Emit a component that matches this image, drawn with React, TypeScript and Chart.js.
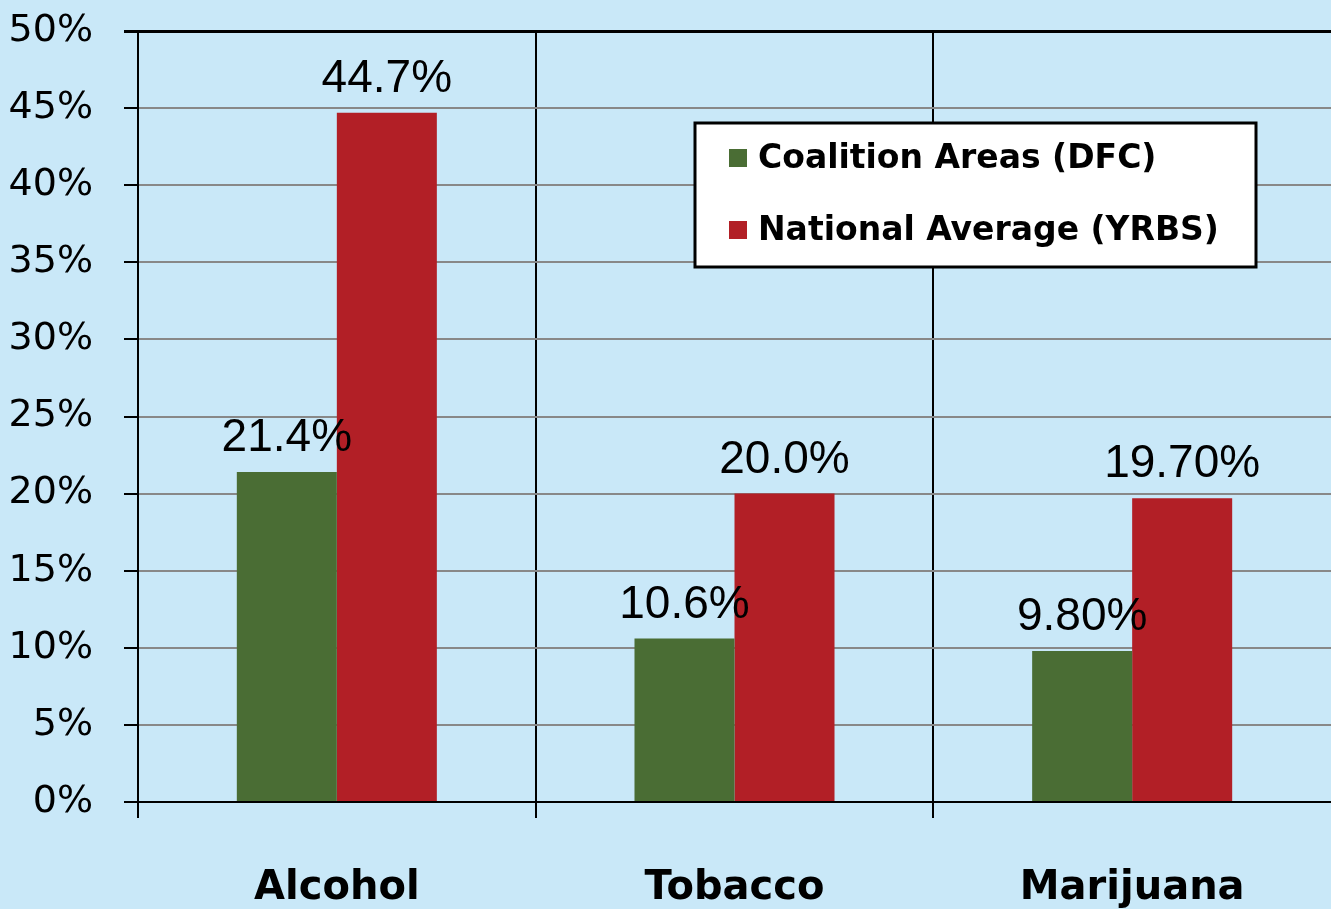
import React, { useEffect, useRef } from "react";
import { Chart, registerables } from "chart.js";

Chart.register(...registerables);

const categories = ["Alcohol", "Tobacco", "Marijuana"];
const coalitionValues = [21.4, 10.6, 9.8];
const nationalValues = [44.7, 20.0, 19.7];
const coalitionLabels = ["21.4%", "10.6%", "9.80%"];
const nationalLabels = ["44.7%", "20.0%", "19.70%"];
const seriesNames = ["Coalition Areas (DFC)", "National Average (YRBS)"];
const yTicks = [0, 5, 10, 15, 20, 25, 30, 35, 40, 45, 50];

const BG = "#C9E8F8";
const GREEN = "#4A6D34";
const RED = "#B21F26";

const bgPlugin = {
  id: "bgFill",
  beforeDraw(chart: any) {
    const { ctx, width, height } = chart;
    ctx.save();
    ctx.fillStyle = BG;
    ctx.fillRect(0, 0, width, height);
    ctx.restore();
  },
};

const valueLabelPlugin = {
  id: "valueLabels",
  afterDatasetsDraw(chart: any) {
    const { ctx } = chart;
    const labelSets = [coalitionLabels, nationalLabels];
    ctx.save();
    ctx.font = "46px 'Liberation Sans', Arial, sans-serif";
    ctx.fillStyle = "#000";
    ctx.textAlign = "center";
    ctx.textBaseline = "alphabetic";
    chart.data.datasets.forEach((_ds: any, di: number) => {
      const meta = chart.getDatasetMeta(di);
      meta.data.forEach((el: any, i: number) => {
        ctx.fillText(labelSets[di][i], el.x, el.y - 21);
      });
    });
    ctx.restore();
  },
};

const boxLegendPlugin = {
  id: "boxLegend",
  afterDraw(chart: any) {
    const { ctx } = chart;
    const x0 = 695, y0 = 123, w = 561, h = 144;
    ctx.save();
    ctx.fillStyle = "#FFFFFF";
    ctx.fillRect(x0, y0, w, h);
    ctx.lineWidth = 3;
    ctx.strokeStyle = "#000";
    ctx.strokeRect(x0, y0, w, h);
    ctx.font = "bold 33px 'DejaVu Sans', Verdana, sans-serif";
    ctx.textAlign = "left";
    ctx.textBaseline = "middle";
    const rows = [158, 230];
    chart.data.datasets.forEach((ds: any, i: number) => {
      const cy = rows[i];
      ctx.fillStyle = ds.backgroundColor;
      ctx.fillRect(729, cy - 9, 18, 18);
      ctx.fillStyle = "#000";
      ctx.fillText(ds.label, 758, cy + 1);
    });
    ctx.restore();
  },
};

export default function App() {
  const canvasRef = useRef<HTMLCanvasElement | null>(null);

  useEffect(() => {
    document.body.style.margin = "0";
    document.body.style.background = BG;
    document.body.style.overflow = "hidden";
    const canvas = canvasRef.current;
    if (!canvas) return;
    const chart = new Chart(canvas, {
      type: "bar",
      data: {
        labels: categories,
        datasets: [
          {
            label: seriesNames[0],
            data: coalitionValues,
            backgroundColor: GREEN,
            borderWidth: 0,
            categoryPercentage: 0.503,
            barPercentage: 1.0,
          },
          {
            label: seriesNames[1],
            data: nationalValues,
            backgroundColor: RED,
            borderWidth: 0,
            categoryPercentage: 0.503,
            barPercentage: 1.0,
          },
        ],
      },
      options: {
        animation: false,
        responsive: true,
        maintainAspectRatio: false,
        layout: { padding: { top: 31, left: 0, right: 0, bottom: 0 } },
        plugins: {
          legend: { display: false },
          tooltip: { enabled: false },
        },
        scales: {
          x: {
            type: "category",
            offset: true,
            afterFit(scale: any) {
              scale.height = 107;
              scale.paddingLeft = 0;
              scale.paddingRight = 0;
            },
            grid: {
              offset: true,
              color: (ctx: any) => (ctx.type === "tick" ? "#000" : "rgba(0,0,0,0)"),
              lineWidth: 2,
              tickLength: 16,
              tickColor: (ctx: any) => (ctx.type === "tick" ? "#000" : "rgba(0,0,0,0)"),
              tickWidth: 2,
            },
            border: { display: true, color: "#000", width: 2 },
            ticks: {
              color: "#000",
              padding: 47,
              font: { family: "'DejaVu Sans', Verdana, sans-serif", size: 40, weight: "bold" },
              maxRotation: 0,
              autoSkip: false,
            },
          },
          y: {
            min: 0,
            max: 50,
            afterFit(scale: any) {
              scale.width = 138;
              scale.paddingTop = 0;
              scale.paddingBottom = 0;
            },
            afterBuildTicks(scale: any) {
              scale.ticks = yTicks.map((v) => ({ value: v }));
            },
            grid: {
              color: (ctx: any) =>
                ctx.tick && (ctx.tick.value === 50 || ctx.tick.value === 0) ? "#000" : "#888888",
              lineWidth: (ctx: any) => (ctx.tick && ctx.tick.value === 50 ? 3 : 2),
              tickColor: "#000",
              tickLength: 14,
              tickWidth: (ctx: any) => (ctx.tick && ctx.tick.value === 50 ? 3 : 2),
            },
            border: { display: true, color: "#000", width: 2 },
            ticks: {
              color: "#000",
              padding: 31,
              font: { family: "'DejaVu Sans', Verdana, sans-serif", size: 38 },
              callback: (v: any) => `${v}%`,
            },
          },
        },
      },
      plugins: [bgPlugin, valueLabelPlugin, boxLegendPlugin],
    });
    return () => chart.destroy();
  }, []);

  return (
    <div style={{ width: 1331, height: 909, position: "relative", background: BG }}>
      <canvas ref={canvasRef} />
    </div>
  );
}
